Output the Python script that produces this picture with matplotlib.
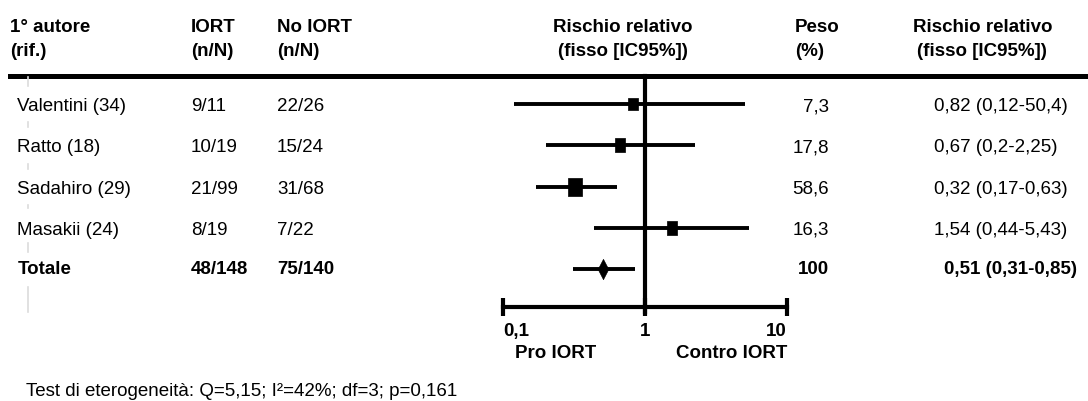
import numpy as np
import matplotlib.pyplot as plt
from matplotlib.lines import Line2D
from matplotlib import transforms
from matplotlib.ticker import NullLocator

plt.rcParams['font.family'] = ['Liberation Sans', 'DejaVu Sans']

# studi della meta-analisi
autori = ['Valentini (34)', 'Ratto (18)', 'Sadahiro (29)', 'Masakii (24)']
iort = ['9/11', '10/19', '21/99', '8/19']
no_iort = ['22/26', '15/24', '31/68', '7/22']
peso = [7.3, 17.8, 58.6, 16.3]
rr = [0.82, 0.67, 0.32, 1.54]
ic_inf = [0.12, 0.2, 0.17, 0.44]
ic_sup = [5.04, 2.25, 0.63, 5.43]
rr_testo = ['0,82 (0,12-50,4)', '0,67 (0,2-2,25)', '0,32 (0,17-0,63)', '1,54 (0,44-5,43)']

# totale
tot_iort = '48/148'
tot_no_iort = '75/140'
tot_peso = 100
tot_rr = 0.51
tot_inf = 0.31
tot_sup = 0.85
tot_testo = '0,51 (0,31-0,85)'

tick_val = [0.1, 1, 10]
tick_lab = ['0,1', '1', '10']

W, H = 1088, 401
FS = 13.5


def fx(px):
    return px / W


def fy(py):
    return 1 - py / H


fig = plt.figure(figsize=(W / 100, H / 100), dpi=100)
fig.patch.set_facecolor('white')

ax = fig.add_axes([fx(503), fy(307), fx(787) - fx(503), fy(76) - fy(307)])
ax.set_xscale('log')
ax.set_xlim(tick_val[0], tick_val[-1])
ax.set_ylim(4.92, -0.68)
ax.patch.set_alpha(0)

y = np.arange(len(autori))

# intervalli di confidenza
ax.hlines(y, ic_inf, ic_sup, color='k', lw=2.8)
ax.hlines(len(autori), tot_inf, tot_sup, color='k', lw=2.8)

# quadrati proporzionali al peso (un po' più alti che larghi)
rett = [(-0.36, -0.5), (0.36, -0.5), (0.36, 0.5), (-0.36, 0.5), (-0.36, -0.5)]
for yi, r, p in zip(y, rr, peso):
    alt = (9 + 1.3 * np.sqrt(p)) * 0.72
    ax.plot(r, yi, marker=rett, ms=alt, color='k', mec='k', mew=0.5)

rombo = [(0, -0.5), (0.26, 0), (0, 0.5), (-0.26, 0), (0, -0.5)]
ax.plot(tot_rr, len(autori), marker=rombo, ms=14.5, color='k', mec='k', mew=0.5)

ax.axvline(1, ymin=-0.02, ymax=1, color='k', lw=3, clip_on=False)

for s in ['left', 'right', 'top']:
    ax.spines[s].set_visible(False)
ax.spines['bottom'].set_linewidth(3)
ax.set_yticks([])
ax.set_xticks(tick_val)
ax.xaxis.set_minor_locator(NullLocator())
ax.set_xticklabels(tick_lab, fontweight='bold', fontsize=FS)
lab = ax.get_xticklabels()
lab[0].set_ha('left')
lab[-1].set_ha('right')
ax.tick_params(axis='x', direction='inout', length=13, width=3, pad=5)

fig.text(fx(556), fy(354), 'Pro IORT', ha='center', va='center', fontsize=FS, fontweight='bold')
fig.text(fx(787), fy(354), 'Contro IORT', ha='right', va='center', fontsize=FS, fontweight='bold')

# intestazioni
h1, h2 = fy(27), fy(52)
b = dict(fontsize=FS, fontweight='bold', va='center')
fig.text(fx(10), h1, '1° autore', **b)
fig.text(fx(10), h2, '(rif.)', **b)
fig.text(fx(191), h1, 'IORT', **b)
fig.text(fx(191), h2, '(n/N)', **b)
fig.text(fx(277), h1, 'No IORT', **b)
fig.text(fx(277), h2, '(n/N)', **b)
fig.text(fx(623), h1, 'Rischio relativo', ha='center', **b)
fig.text(fx(623), h2, '(fisso [IC95%])', ha='center', **b)
fig.text(fx(795), h1, 'Peso', **b)
fig.text(fx(795), h2, '(%)', **b)
fig.text(fx(913), h1, 'Rischio relativo', **b)
fig.text(fx(917), h2, '(fisso [IC95%])', **b)

fig.add_artist(Line2D([fx(10), 1], [fy(76), fy(76)], lw=3.6, color='k',
                      transform=fig.transFigure))

# righe della tabella
tr = transforms.blended_transform_factory(fig.transFigure, ax.transData)
r = dict(fontsize=FS, va='center', transform=tr)
for yi, a, n1, n2, p, t in zip(y, autori, iort, no_iort, peso, rr_testo):
    yt = yi + 0.06
    fig.text(fx(17), yt, a, **r)
    fig.text(fx(191), yt, n1, **r)
    fig.text(fx(277), yt, n2, **r)
    fig.text(fx(829), yt, f'{p:.1f}'.replace('.', ','), ha='right', **r)
    fig.text(fx(934), yt, t, **r)

yt = len(autori) + 0.02
fig.text(fx(18), yt, 'Totale', fontweight='bold', **r)
fig.text(fx(191), yt, tot_iort, fontweight='bold', **r)
fig.text(fx(277), yt, tot_no_iort, fontweight='bold', **r)
fig.text(fx(829), yt, str(tot_peso), ha='right', fontweight='bold', **r)
fig.text(fx(944), yt, tot_testo, fontweight='bold', **r)

# segni grigi a sinistra
for a0, a1 in [(-0.66, -0.44), (0.43, 0.56), (1.45, 1.58), (2.45, 2.53), (3.37, 3.58), (4.44, 5.05)]:
    fig.add_artist(Line2D([fx(28), fx(28)], [a0, a1], lw=1.2, color='#dcdcdc',
                          transform=tr))

fig.text(fx(26), fy(391), 'Test di eterogeneità: Q=5,15; I²=42%; df=3; p=0,161',
         fontsize=FS, va='center')

fig.savefig('out.png', dpi=100)
